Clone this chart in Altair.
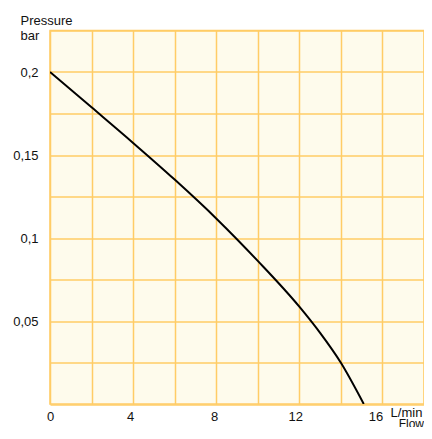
import altair as alt
import pandas as pd

flow = [0, 2, 4, 6, 8, 10, 12, 13, 14, 15.1]
pressure = [0.2, 0.1787, 0.1573, 0.1352, 0.1118, 0.0862, 0.0586, 0.0428, 0.0248, 0.0]

x_grid = [0, 2, 4, 6, 8, 10, 12, 14, 16, 18]
y_grid = [0, 0.025, 0.05, 0.075, 0.1, 0.125, 0.15, 0.175, 0.2, 0.225]

df = pd.DataFrame({"flow": flow, "pressure": pressure})

FONT = "Liberation Sans"
GRID = "#FFCC66"

x_axis = alt.Axis(
    values=x_grid,
    grid=True, gridColor=GRID, gridWidth=1.5, gridOpacity=1,
    domain=False, ticks=False,
    labelExpr="datum.value == 18 ? 'L/min' : (datum.value % 4 == 0 ? toString(datum.value) : '')",
    labelFont=FONT, labelFontSize=13, labelColor="#111",
    labelPadding={"condition": {"test": "datum.value == 18", "value": 2}, "value": 6},
    labelBaseline="top",
    labelOffset={"condition": [
        {"test": "datum.value == 18", "value": -18},
        {"test": "datum.value == 16", "value": -7},
        {"test": "datum.value == 12", "value": -4},
        {"test": "datum.value == 4", "value": -3},
        {"test": "datum.value == 8", "value": -2}], "value": 0},
    labelFlush=False, labelOverlap=False,
    title="Flow", titleFont=FONT, titleFontSize=12, titleFontWeight="normal",
    titleColor="#111", titleAlign="right", titleBaseline="alphabetic",
    titleX=373.5, titleY=23, titleAnchor="start",
)

y_axis = alt.Axis(
    values=y_grid,
    grid=True, gridColor=GRID, gridWidth=1.5, gridOpacity=1,
    domain=False, ticks=False,
    labelExpr="(datum.value > 0.001 && abs(datum.value * 20 - round(datum.value * 20)) < 0.0001) ? replace(format(datum.value, '.2~f'), '.', ',') : ''",
    labelFont=FONT, labelFontSize=13, labelColor="#111",
    labelPadding=12, labelOverlap=False, labelFlush=False,
    title=["Pressure", "bar"], titleFont=FONT, titleFontSize=13,
    titleFontWeight="normal", titleColor="#111",
    titleAngle=0, titleAlign="left", titleBaseline="alphabetic",
    titleX=-30, titleY=-6, titleLineHeight=15,
)

chart = alt.Chart(df).mark_line(
    color="black", strokeWidth=2, interpolate="monotone", clip=True
).encode(
    x=alt.X("flow:Q", scale=alt.Scale(domain=[0, 18], nice=False, zero=False), axis=x_axis),
    y=alt.Y("pressure:Q", scale=alt.Scale(domain=[0, 0.225], nice=False), axis=y_axis),
).properties(
    width=374, height=373.5,
    autosize=alt.AutoSizeParams(type="none"),
    padding={"left": 42, "top": 22.5, "right": 0, "bottom": 23},
).configure_view(
    fill="#FEFBEC", stroke=GRID, strokeWidth=1.5
)

chart.save("out.html", embed_options={"renderer": "svg", "actions": False})
